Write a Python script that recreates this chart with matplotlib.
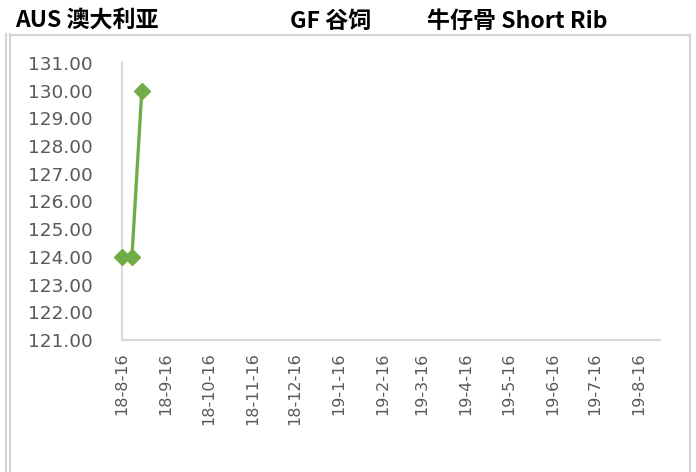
import matplotlib
matplotlib.use("Agg")
import matplotlib.pyplot as plt
from matplotlib.lines import Line2D
from matplotlib.ticker import FormatStrFormatter, MultipleLocator
import datetime as dt

# Weekly price records
dates = ["2018-08-16", "2018-08-23", "2018-08-30"]
prices = [124.0, 124.0, 130.0]

# Monthly tick dates on the time axis
tick_dates = ["2018-08-16", "2018-09-16", "2018-10-16", "2018-11-16", "2018-12-16",
              "2019-01-16", "2019-02-16", "2019-03-16", "2019-04-16", "2019-05-16",
              "2019-06-16", "2019-07-16", "2019-08-16"]
tick_labels = ["18-8-16", "18-9-16", "18-10-16", "18-11-16", "18-12-16",
               "19-1-16", "19-2-16", "19-3-16", "19-4-16", "19-5-16",
               "19-6-16", "19-7-16", "19-8-16"]

title_parts = ["AUS 澳大利亚", "GF 谷饲", "牛仔骨 Short Rib"]

to_dt = lambda s: dt.datetime.strptime(s, "%Y-%m-%d")
x = [to_dt(d) for d in dates]
xt = [to_dt(d) for d in tick_dates]

W, H = 696, 472
fig = plt.figure(figsize=(W / 100, H / 100), dpi=100)
fig.patch.set_facecolor("white")

ax = fig.add_axes([122 / W, 1 - 340 / H, (660 - 122) / W, (340 - 63) / H])
green = "#70AD47"
ax.plot(x, prices, color=green, lw=2.4, marker="D", markersize=8.5,
        markeredgecolor=green, markerfacecolor=green, clip_on=False, zorder=3)

ax.set_xlim(to_dt("2018-08-16"), to_dt("2019-08-31"))
ax.set_ylim(121, 131)
ax.yaxis.set_major_locator(MultipleLocator(1))
ax.yaxis.set_major_formatter(FormatStrFormatter("%.2f"))
ax.set_xticks(xt)
ax.set_xticklabels(tick_labels, rotation=90, fontsize=11.5, color="#595959",
                   family="DejaVu Sans")
ax.tick_params(axis="x", length=0, pad=9)
ax.tick_params(axis="y", length=0, pad=21, labelsize=13.3, labelcolor="#595959")
for lab in ax.get_yticklabels():
    lab.set_family("DejaVu Sans")

for side in ("top", "right"):
    ax.spines[side].set_visible(False)
for side in ("left", "bottom"):
    ax.spines[side].set_color("#D9D9D9")
    ax.spines[side].set_linewidth(1.5)

# Chart frame lines
frame = "#D4D4D4"
def fline(xs, ys):
    fig.add_artist(Line2D([v / W for v in xs], [1 - v / H for v in ys],
                          color=frame, lw=1.6, transform=fig.transFigure))
fline([6, 6], [34, 472])
fline([10, 10], [34, 472])
fline([10, 689.5], [34.5, 34.5])
fline([689.5, 689.5], [34.5, 472])

# Title
for txt, px in zip(title_parts, [15, 290, 427]):
    fig.text(px / W, 1 - 21 / H, txt, fontsize=16.6, fontweight="bold",
             family=["Noto Sans CJK SC", "DejaVu Sans"], color="#000000",
             ha="left", va="center")

fig.savefig("out.png", dpi=100)
